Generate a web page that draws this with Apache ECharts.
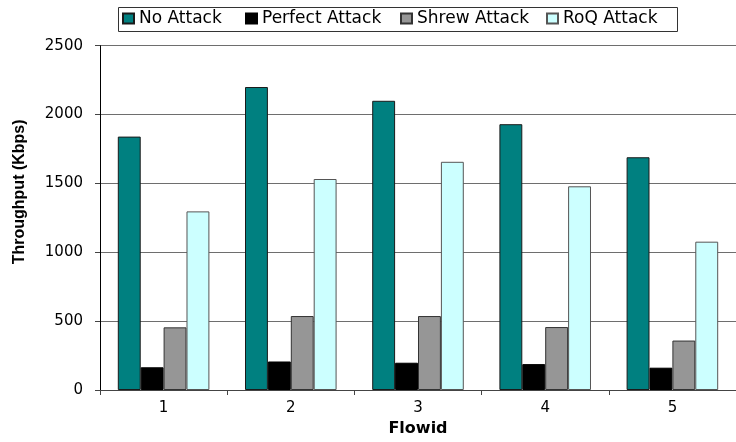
<!DOCTYPE html>
<html>
<head>
<meta charset="utf-8">
<script src="https://cdn.jsdelivr.net/npm/echarts@6/dist/echarts.min.js"></script>
<style>
  html, body { margin: 0; padding: 0; background: #fff; }
  #chart { width: 736px; height: 442px; }
</style>
</head>
<body>
<div id="chart"></div>
<script>
// Flow identifiers on the x axis
const flowIds = ['1', '2', '3', '4', '5'];

// Throughput per flow (Kbps) under each scenario
const noAttack      = [1840, 2200, 2100, 1930, 1690];
const perfectAttack = [165, 207, 198, 188, 162];
const shrewAttack   = [455, 537, 537, 457, 359];
const roqAttack     = [1297, 1532, 1657, 1479, 1077];

const seriesNames = ['No Attack', 'Perfect Attack', 'Shrew Attack', 'RoQ Attack'];
const seriesData = [noAttack, perfectAttack, shrewAttack, roqAttack];
const fills = ['#008080', '#000000', '#969696', '#CCFFFF'];
const borders = ['#1a1a1a', '#000000', '#333333', '#555555'];

const legendLeft = [122, 245, 400, 546];

const chart = echarts.init(document.getElementById('chart'), null, { renderer: 'canvas' });

const series = seriesNames.map((name, i) => ({
  name: name,
  type: 'bar',
  data: seriesData[i],
  barGap: '0%',
  barCategoryGap: '28%',
  itemStyle: { color: fills[i], borderColor: borders[i], borderWidth: 1 },
  emphasis: { disabled: true },
  animation: false
}));

const legends = seriesNames.map((name, i) => ({
  data: [name],
  left: legendLeft[i],
  top: 10,
  padding: 0,
  itemWidth: 11,
  itemHeight: 10,
  icon: 'rect',
  selectedMode: false,
  textStyle: { fontFamily: 'DejaVu Sans', fontSize: 17, color: '#000' }
}));

chart.setOption({
  backgroundColor: '#ffffff',
  animation: false,
  legend: legends,
  graphic: [{
    type: 'rect',
    left: 116,
    top: 5,
    shape: { width: 559, height: 24 },
    style: { fill: 'none', stroke: '#333', lineWidth: 1 },
    z: -1
  }],
  grid: { left: 100, top: 45.7, width: 645, height: 346 },
  xAxis: {
    type: 'category',
    data: flowIds,
    name: 'Flowid',
    nameLocation: 'middle',
    nameGap: 31,
    nameTextStyle: { fontFamily: 'DejaVu Sans', fontWeight: 'bold', fontSize: 16, color: '#000' },
    axisLine: { lineStyle: { color: '#444', width: 1 } },
    axisTick: { show: true, length: 5, lineStyle: { color: '#444' } },
    axisLabel: { margin: 11, fontFamily: 'DejaVu Sans', fontSize: 15, color: '#000' }
  },
  yAxis: {
    type: 'value',
    min: 0,
    max: 2500,
    interval: 500,
    name: 'Throughput (Kbps)',
    nameLocation: 'middle',
    nameGap: 72,
    nameTextStyle: {
      fontFamily: 'Liberation Sans', fontWeight: 'bold', fontSize: 16, color: '#000',
      padding: [0, 0, 0, 52]
    },
    axisLine: { show: true, lineStyle: { color: '#000', width: 1 } },
    axisTick: { show: true, length: 5, lineStyle: { color: '#444' } },
    axisLabel: {
      margin: 17, fontFamily: 'DejaVu Sans', fontSize: 15, color: '#000',
      formatter: (v) => String(v)
    },
    splitLine: { show: true, lineStyle: { color: '#6e6e6e', width: 1 } }
  },
  series: series
});
</script>
</body>
</html>
